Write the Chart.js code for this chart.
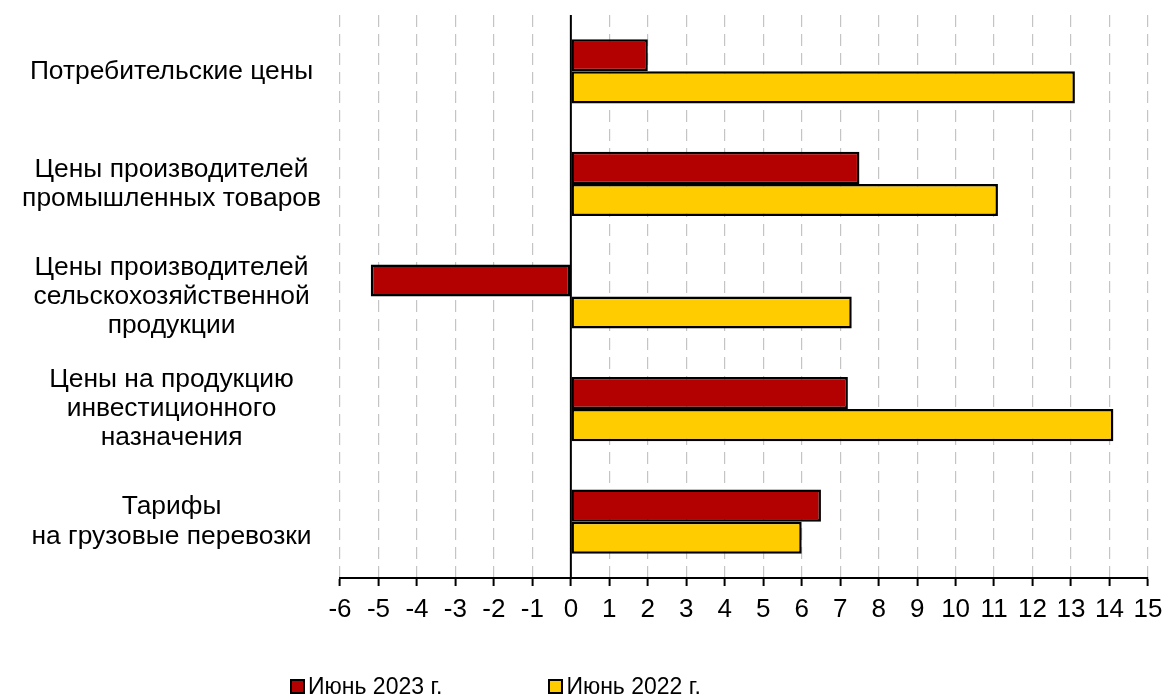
<!DOCTYPE html>
<html>
<head>
<meta charset="utf-8">
<script src="https://cdn.jsdelivr.net/npm/chart.js@4/dist/chart.umd.min.js"></script>
<style>
  html, body { margin: 0; padding: 0; background: #fff; }
  #wrap { position: relative; width: 1165px; height: 697px; }
  #legend { position: absolute; left: 290px; top: 673px; display: flex; font-family: "Liberation Sans", Arial, sans-serif; font-size: 23px; color: #000; }
  .item { display: flex; align-items: center; margin-right: 106px; line-height: 26px; }
  .box { width: 11px; height: 11px; border: 2px solid #000; margin-right: 3px; }
</style>
</head>
<body>
<div id="wrap">
  <canvas id="chart" width="1165" height="697"></canvas>
  <div id="legend"></div>
</div>
<script>
// categories (multi-line labels)
const categories = [
    ['Потребительские цены'],
    ['Цены производителей', 'промышленных товаров'],
    ['Цены производителей', 'сельскохозяйственной', 'продукции'],
    ['Цены на продукцию', 'инвестиционного', 'назначения'],
    ['Тарифы', 'на грузовые перевозки']
];

// series values, %
const june2023 = [2.0, 7.5, -5.2, 7.2, 6.5];
const june2022 = [13.1, 11.1, 7.3, 14.1, 6.0];

// x axis range
const xMin = -6;
const xMax = 15;

const fontFamily = '"Liberation Sans", Arial, sans-serif';

// solid line at zero
const zeroLine = {
    id: 'zeroLine',
    afterDatasetsDraw(chart) {
        const { ctx, chartArea, scales } = chart;
        const x = scales.x.getPixelForValue(0);
        ctx.save();
        ctx.strokeStyle = '#000';
        ctx.lineWidth = 2;
        ctx.beginPath();
        ctx.moveTo(x, chartArea.top);
        ctx.lineTo(x, chartArea.bottom);
        ctx.stroke();
        ctx.restore();
    }
};

// html legend built from the chart's own legend items
const htmlLegend = {
    id: 'htmlLegend',
    afterUpdate(chart) {
        const box = document.getElementById('legend');
        box.innerHTML = '';
        const items = chart.options.plugins.legend.labels.generateLabels(chart);
        items.forEach(item => {
            const el = document.createElement('div');
            el.className = 'item';
            const sq = document.createElement('span');
            sq.className = 'box';
            sq.style.background = item.fillStyle;
            el.appendChild(sq);
            el.appendChild(document.createTextNode(item.text));
            box.appendChild(el);
        });
    }
};

const ctx = document.getElementById('chart').getContext('2d');
const chart = new Chart(ctx, {
    type: 'bar',
    data: {
        labels: categories,
        datasets: [
            {
                label: 'Июнь 2023 г.',
                data: june2023,
                backgroundColor: '#B30000',
                borderColor: '#000',
                borderWidth: 2.5,
                borderSkipped: false
            },
            {
                label: 'Июнь 2022 г.',
                data: june2022,
                backgroundColor: '#FFCC00',
                borderColor: '#000',
                borderWidth: 2.5,
                borderSkipped: false
            }
        ]
    },
    options: {
        indexAxis: 'y',
        responsive: false,
        animation: false,
        datasets: {
            bar: { categoryPercentage: 0.57, barPercentage: 1.0 }
        },
        layout: { padding: { top: 15, right: 17, left: 0, bottom: 0 } },
        plugins: {
            legend: { display: false },
            tooltip: { enabled: false }
        },
        scales: {
            x: {
                min: xMin,
                max: xMax,
                afterFit: (scale) => {
                    scale.height = 119;
                    scale.paddingLeft = 0;
                    scale.paddingRight = 0;
                },
                ticks: {
                    stepSize: 1,
                    autoSkip: false,
                    maxRotation: 0,
                    padding: 8,
                    color: '#000',
                    font: { family: fontFamily, size: 26 }
                },
                grid: {
                    color: '#c4c4c4',
                    lineWidth: 1.2,
                    tickColor: '#000',
                    tickLength: 8,
                    tickWidth: 2
                },
                border: { display: true, color: '#000', width: 2, dash: [12, 7] }
            },
            y: {
                afterFit: (scale) => {
                    scale.width = 340;
                    scale.paddingTop = 0;
                    scale.paddingBottom = 0;
                },
                ticks: {
                    crossAlign: 'center',
                    padding: 11,
                    color: '#000',
                    font: { family: fontFamily, size: 26.4, lineHeight: 1.1 }
                },
                grid: { display: false },
                border: { display: false }
            }
        }
    },
    plugins: [zeroLine, htmlLegend]
});
</script>
</body>
</html>
